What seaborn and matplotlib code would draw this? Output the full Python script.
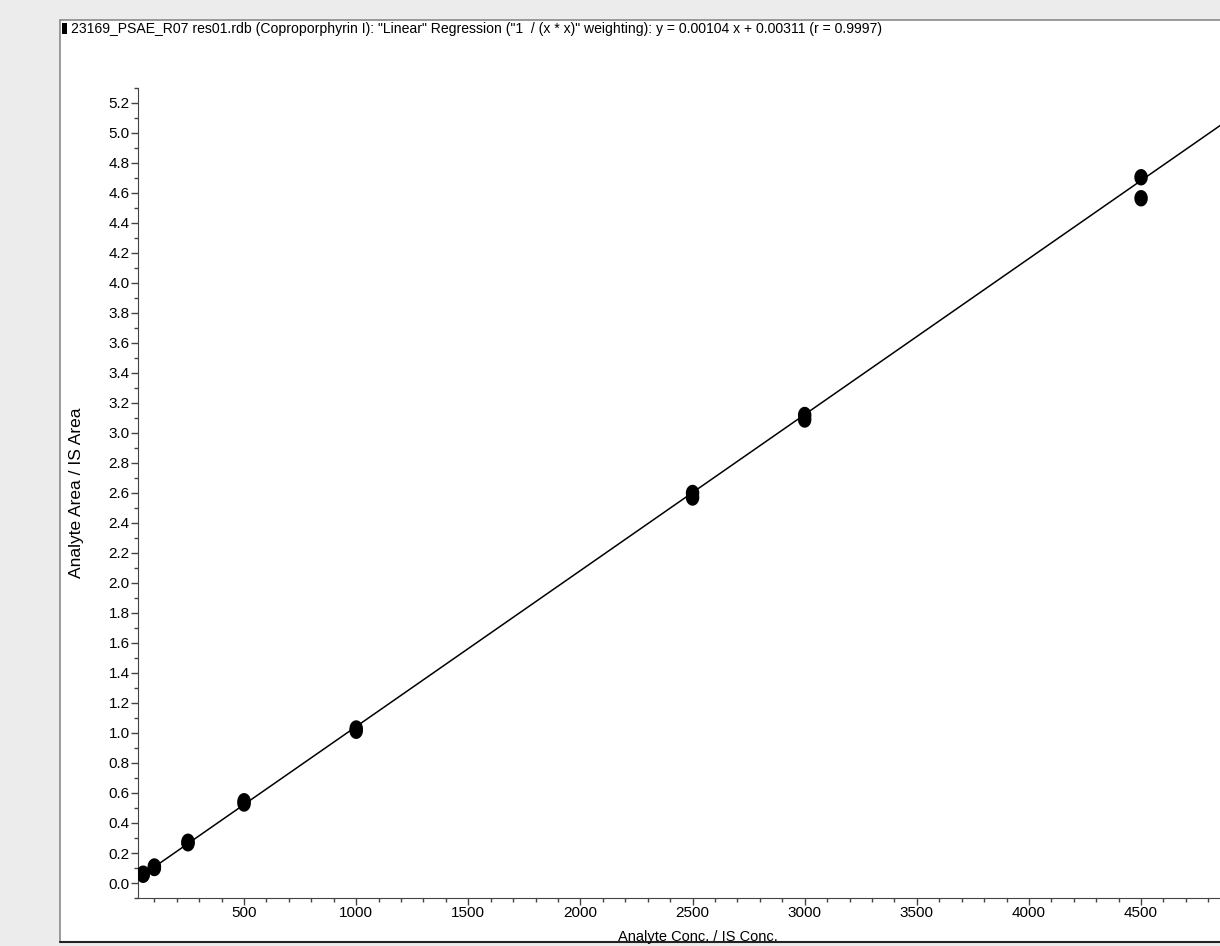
import numpy as np
import pandas as pd
import seaborn as sns
import matplotlib.pyplot as plt
from matplotlib.path import Path
from matplotlib.patches import Rectangle
from matplotlib.ticker import MultipleLocator

# calibration standards (two injections per level)
conc = [50, 50, 100, 100, 250, 250, 500, 500, 1000, 1000,
        2500, 2500, 3000, 3000, 4500, 4500]
ratio = [0.055, 0.062, 0.100, 0.110, 0.265, 0.275, 0.530, 0.545, 1.015, 1.030,
         2.570, 2.600, 3.090, 3.120, 4.565, 4.705]

# regression from the header
slope = 0.00104
intercept = 0.00311
fit_x = [50, 4900]

title = ('23169_PSAE_R07 res01.rdb (Coproporphyrin I): "Linear" Regression '
         '("1  / (x * x)" weighting): y = 0.00104 x + 0.00311 (r = 0.9997)')

sns.set_style("white")
plt.rcParams['font.family'] = ['Liberation Sans', 'DejaVu Sans']
plt.rcParams['text.color'] = 'black'
plt.rcParams['axes.labelcolor'] = 'black'
plt.rcParams['xtick.labelcolor'] = 'black'
plt.rcParams['ytick.labelcolor'] = 'black'

df = pd.DataFrame({"conc": conc, "ratio": ratio})
fit = pd.DataFrame({"conc": fit_x,
                    "ratio": [slope * v + intercept for v in fit_x]})

fig = plt.figure(figsize=(12.2, 9.46), dpi=100, facecolor="#ececec")

# white panel behind the plot
W, H = 1220, 946
fig.add_artist(Rectangle((60 / W, 1 - 942 / H), 1 - 60 / W, (942 - 20) / H,
                         transform=fig.transFigure, facecolor="white",
                         edgecolor="none", zorder=-5))
fig.add_artist(plt.Line2D([60 / W, 1], [1 - 20 / H] * 2, color="#8a8a8a", lw=1.2, zorder=-4))
fig.add_artist(plt.Line2D([60 / W, 60 / W], [1 - 20 / H, 1 - 942 / H], color="#8a8a8a", lw=1.2, zorder=-4))
fig.add_artist(plt.Line2D([60 / W, 1], [1 - 942 / H] * 2, color="#222222", lw=1.5, zorder=-4))
fig.add_artist(Rectangle((62 / W, 1 - 34 / H), 5 / W, 11 / H, transform=fig.transFigure,
                         facecolor="black", edgecolor="none"))
fig.text(71 / W, 1 - 29 / H, title, fontsize=10.1, va="center", ha="left")

ax = fig.add_axes([138 / W, 1 - 898 / H, 1 - 138 / W, (898 - 88) / H])
ax.set_facecolor("none")

# slightly tall elliptical marker
t = np.linspace(0, 2 * np.pi, 40)
ell = Path(np.column_stack([0.82 * np.cos(t), np.sin(t)]))

sns.lineplot(data=fit, x="conc", y="ratio", color="black", lw=1.1, ax=ax)
sns.scatterplot(data=df, x="conc", y="ratio", color="black", marker=ell, s=140,
                edgecolor="none", ax=ax, zorder=3)

ax.set_xlim(27, 4852)
ax.set_ylim(-0.1, 5.3)
ax.xaxis.set_major_locator(MultipleLocator(500))
ax.xaxis.set_minor_locator(MultipleLocator(100))
ax.yaxis.set_major_locator(MultipleLocator(0.2))
ax.yaxis.set_minor_locator(MultipleLocator(0.1))
ax.yaxis.set_major_formatter(plt.FormatStrFormatter("%.1f"))

for s in ["top", "right"]:
    ax.spines[s].set_visible(False)
ax.spines["left"].set_color("#444444")
ax.spines["bottom"].set_color("#444444")
ax.tick_params(which="major", direction="out", length=5, width=1, color="#444444",
               labelsize=11, pad=1, left=True, bottom=True)
ax.tick_params(which="minor", direction="out", length=3, width=1, color="#444444",
               left=True, bottom=True)

ax.set_xlabel("Analyte Conc. / IS Conc.", fontsize=10.5)
ax.set_ylabel("Analyte Area / IS Area", fontsize=12.5, labelpad=18)
ax.xaxis.set_label_coords((698 - 138) / (W - 138), -0.039)

fig.savefig("out.png", dpi=100, facecolor=fig.get_facecolor())
